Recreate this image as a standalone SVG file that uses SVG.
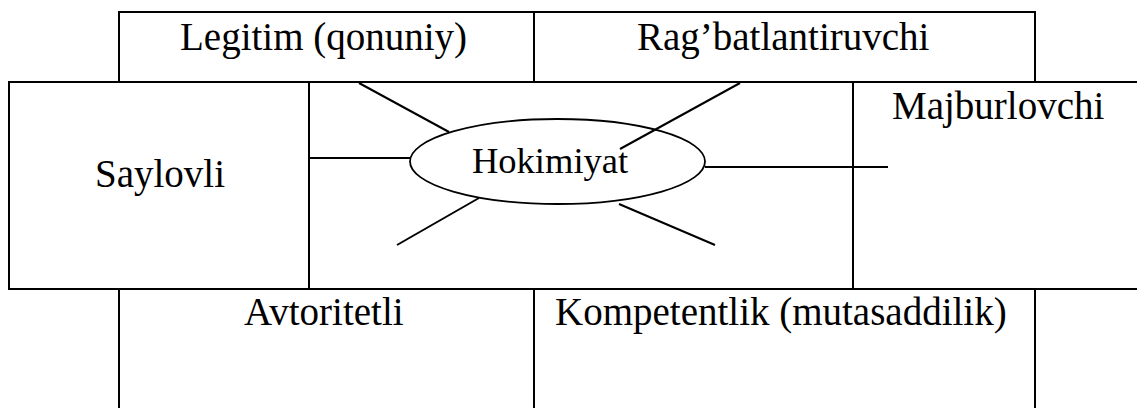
<svg xmlns="http://www.w3.org/2000/svg" width="1137" height="408" viewBox="0 0 1137 408">
<style>
.box{fill:none;stroke:#000;stroke-width:2}
.lbl{font-family:"Liberation Serif","Times New Roman",serif;font-size:39px;fill:#000}
.con{stroke:#000;stroke-width:2;fill:none}
</style>
<rect width="1137" height="408" fill="#fff"/>
<g id="legitim"><rect class="box" x="119" y="12" width="415" height="70"/><text class="lbl" x="180" y="50">Legitim (qonuniy)</text></g>
<g id="ragbatlantiruvchi"><rect class="box" x="534" y="12" width="501" height="70"/><text class="lbl" x="637" y="50">Rag’batlantiruvchi</text></g>
<g id="saylovli"><rect class="box" x="9" y="82" width="300" height="207"/><text class="lbl" x="95" y="187">Saylovli</text></g>
<g id="center-cell"><rect class="box" x="309" y="82" width="544" height="207"/></g>
<g id="majburlovchi"><path class="box" d="M1137,82 H853 V289 H1137"/><text class="lbl" x="892" y="119">Majburlovchi</text></g>
<g id="avtoritetli"><path class="box" d="M119,410 V289 H534 V410"/><text class="lbl" x="244" y="325">Avtoritetli</text></g>
<g id="kompetentlik"><path class="box" d="M534,410 V289 H1035 V410"/><text class="lbl" x="555" y="325">Kompetentlik (mutasaddilik)</text></g>
<g id="hokimiyat"><ellipse cx="557.5" cy="161.5" rx="147.5" ry="42.5" fill="none" stroke="#000" stroke-width="1.8"/><text class="lbl" x="472" y="173" style="font-size:36.5px">Hokimiyat</text></g>
<g id="connectors">
<line class="con" x1="359" y1="83" x2="449" y2="132"/>
<line class="con" x1="740" y1="83" x2="620" y2="149"/>
<line class="con" x1="309" y1="158" x2="410" y2="158"/>
<line class="con" x1="705" y1="167" x2="888" y2="167"/>
<line class="con" x1="479" y1="198" x2="397" y2="245"/>
<line class="con" x1="619" y1="204" x2="715" y2="245"/>
</g>
</svg>
